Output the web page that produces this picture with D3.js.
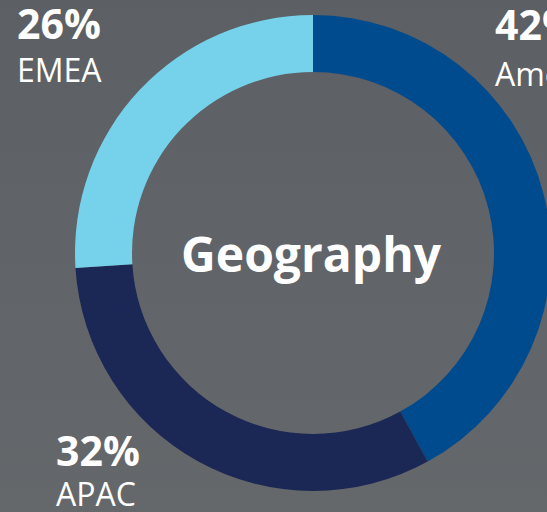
<!DOCTYPE html>
<html>
<head>
<meta charset="utf-8">
<script src="https://cdn.jsdelivr.net/npm/d3@7"></script>
<style>
  html, body { margin: 0; padding: 0; overflow: hidden; }
  body { width: 547px; height: 512px; }
  text { font-family: "Open Sans", "Noto Sans", sans-serif; fill: #ffffff; }
</style>
</head>
<body>
<script>
// geography split
const regions = ["Americas", "APAC", "EMEA"];
const shares = [42, 32, 26];
const colours = ["#004b8d", "#1b2754", "#76d1ea"];
const title = "Geography";

const W = 547, H = 512;
const cx = 313, cy = 253;
const rOut = 238, rIn = 181;

const svg = d3.select("body").append("svg")
    .attr("width", W)
    .attr("height", H);

// soft grey background
const grad = svg.append("defs").append("linearGradient")
    .attr("id", "bg")
    .attr("x1", 0).attr("y1", 0).attr("x2", 0).attr("y2", 1);
grad.append("stop").attr("offset", "0%").attr("stop-color", "#5c5f64");
grad.append("stop").attr("offset", "100%").attr("stop-color", "#65686b");
svg.append("rect").attr("width", W).attr("height", H).attr("fill", "url(#bg)");

const data = regions.map((r, i) => ({ region: r, value: shares[i] }));

const pie = d3.pie().value(d => d.value).sort(null);
const arc = d3.arc().innerRadius(rIn).outerRadius(rOut);
const colour = d3.scaleOrdinal().domain(regions).range(colours);

const g = svg.append("g").attr("transform", `translate(${cx},${cy})`);
g.selectAll("path")
    .data(pie(data))
    .enter().append("path")
    .attr("d", arc)
    .attr("fill", d => colour(d.data.region));

g.append("text")
    .attr("x", -2)
    .attr("y", 19)
    .attr("text-anchor", "middle")
    .attr("font-size", 48)
    .attr("font-weight", 700)
    .text(title);

// labels, placed at the corners
const labelPos = { "Americas": [495, 40, 86], "APAC": [56, 466, 506], "EMEA": [17, 39, 82] };
data.forEach(d => {
    const p = labelPos[d.region];
    svg.append("text")
        .attr("x", p[0]).attr("y", p[1])
        .attr("font-size", 41)
        .attr("font-weight", 700)
        .text(d.value + "%");
    svg.append("text")
        .attr("x", p[0]).attr("y", p[2])
        .attr("font-size", 32)
        .text(d.region);
});
</script>
</body>
</html>
